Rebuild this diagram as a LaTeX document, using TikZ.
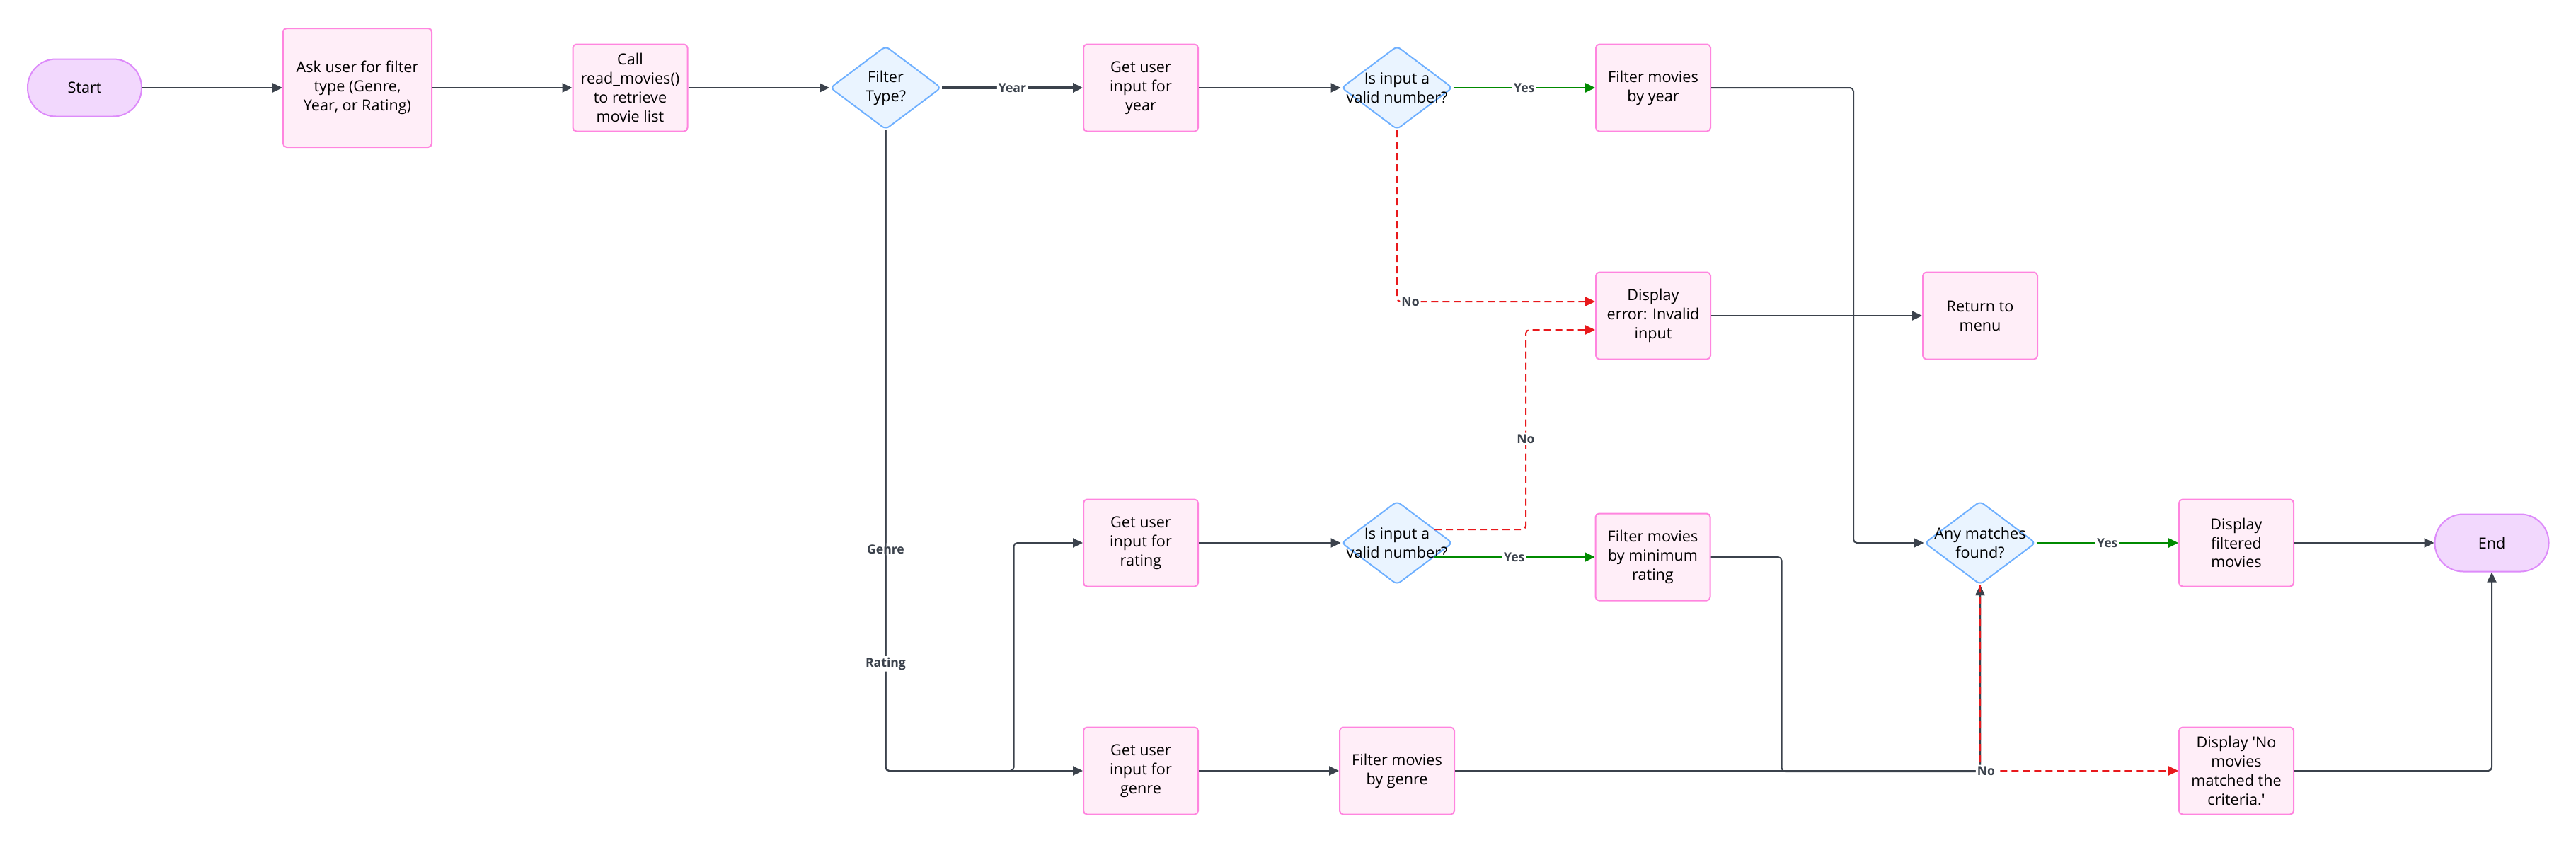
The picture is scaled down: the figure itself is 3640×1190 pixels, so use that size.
\documentclass[tikz,border=0pt]{standalone}
\usepackage{fontspec}
\setmainfont{Open Sans}
\usetikzlibrary{arrows.meta,shapes.geometric,calc}
\definecolor{pinkfill}{HTML}{FFEEF8}
\definecolor{pinkline}{HTML}{FF85DF}
\definecolor{bluefill}{HTML}{EAF4FF}
\definecolor{blueline}{HTML}{6FB0FF}
\definecolor{termfill}{HTML}{F2D8FD}
\definecolor{termline}{HTML}{DD8BFA}
\definecolor{edgecol}{HTML}{3B424C}
\definecolor{yescol}{HTML}{008A00}
\definecolor{nocol}{HTML}{E8191C}
\newcommand\nodefont{\fontsize{10.8pt}{13.4pt}\selectfont}
\newcommand\lblfont{\fontsize{8.8pt}{10.4pt}\selectfont\bfseries}
\begin{document}
\begin{tikzpicture}[x=0.5pt,y=-0.5pt,
  proc/.style={draw=pinkline, fill=pinkfill, line width=1pt, rounded corners=2.5pt,
    minimum width=81pt, minimum height=61.5pt, align=center, font=\nodefont, inner sep=0pt},
  term/.style={draw=termline, fill=termfill, line width=1pt, rounded corners=20pt,
    minimum width=80.5pt, minimum height=40.5pt, align=center, font=\nodefont, inner sep=0pt},
  dec/.style={diamond, draw=blueline, fill=bluefill, line width=1pt, rounded corners=3pt,
    minimum width=78.5pt, minimum height=59pt, inner sep=0pt},
  dtext/.style={font=\nodefont, align=center, inner sep=0pt},
  edge/.style={draw=edgecol, line width=1pt, rounded corners=2.5pt,
    -{Triangle[length=7pt,width=6.5pt]}},
  yesedge/.style={draw=yescol, line width=1.2pt, -{Triangle[length=7pt,width=6.5pt]}},
  noedge/.style={draw=nocol, line width=1pt, dash pattern=on 5pt off 3pt, rounded corners=2.5pt,
    -{Triangle[length=7pt,width=6.5pt]}},
  lbl/.style={fill=white, text=edgecol, font=\lblfont, inner sep=1pt}
]
\useasboundingbox (0,0) rectangle (3640,1190);

% nodes
\node[term] (start) at (119.5,124) {Start};
\node[proc, minimum width=105pt, minimum height=84pt] (ask) at (505,124) {Ask user for filter\\type (Genre,\\Year, or Rating)};
\node[proc] (call) at (890.5,124) {Call\\read\_movies()\\to retrieve\\movie list};
\node[dec, label={[dtext]center:Filter\\Type?}] (ftype) at (1251.5,124) {};
\node[proc] (gyear) at (1612,124) {Get user\\input for\\year};
\node[dec, label={[dtext]center:Is input a\\valid number?}] (valid1) at (1974,124) {};
\node[proc] (fyear) at (2336,124) {Filter movies\\by year};
\node[proc] (derr) at (2336,446) {Display\\error: Invalid\\input};
\node[proc] (ret) at (2798,446) {Return to\\menu};
\node[proc] (grat) at (1612,767) {Get user\\input for\\rating};
\node[dec, label={[dtext]center:Is input a\\valid number?}] (valid2) at (1974,767) {};
\node[proc] (frat) at (2335.5,787) {Filter movies\\by minimum\\rating};
\node[proc] (ggen) at (1612,1089) {Get user\\input for\\genre};
\node[proc] (fgen) at (1974,1089) {Filter movies\\by genre};
\node[dec, label={[dtext]center:Any matches\\found?}] (any) at (2798,767) {};
\node[proc] (dfilt) at (3160,767) {Display\\filtered\\movies};
\node[term] (endn) at (3521,767) {End};
\node[proc] (dno) at (3160,1089) {Display \textquotesingle No\\movies\\matched the\\criteria.\textquotesingle};

% connectors
\draw[edge] (start.east) -- (ask.west);
\draw[edge] (ask.east) -- (call.west);
\draw[edge] (call.east) -- (ftype.west);
\draw[edge, line width=2pt] (ftype.east) -- node[lbl]{Year} (gyear.west);
\draw[edge] (gyear.east) -- (valid1.west);
\draw[edge] (ftype.south) |- node[lbl, pos=0.327]{Genre} (ggen.west);
\draw[edge] (ftype.south) -- node[lbl, pos=0.833]{Rating} (ftype.south |- ggen.west)
   -- ++(181,0) |- (grat.west);
\draw[edge] (grat.east) -- (valid2.west);
\draw[edge] (ggen.east) -- (fgen.west);
\draw[edge] (derr.east) -- (ret.west);
\draw[edge] (fyear.east) -- ++(201,0) |- (any.west);
\draw[edge] (frat.east) -- ++(100,0) |- ($(any.south)+(0,263)$) -- (any.south);
\draw[edge] (fgen.east) -| (any.south);
\draw[edge] (dfilt.east) -- (endn.west);
\draw[edge] (dno.east) -| (endn.south);

\draw[yesedge] (valid1.east) -- node[lbl]{Yes} (fyear.west);
\draw[yesedge] ($(valid2.center)+(52,20)$) -- node[lbl]{Yes} (frat.west);
\draw[yesedge] (any.east) -- node[lbl]{Yes} (dfilt.west);

\draw[noedge] (valid1.south) |- node[lbl, pos=0.534]{No} ($(derr.west)+(0,-20)$);
\draw[noedge] ($(valid2.center)+(53,-19)$) -- ++(129,0) -- node[lbl, pos=0.454]{No} ++(0,-282)
   -- ($(derr.west)+(0,20)$);
\draw[noedge] (any.south) |- node[lbl, pos=0.515]{No} (dno.west);
\end{tikzpicture}
\end{document}
